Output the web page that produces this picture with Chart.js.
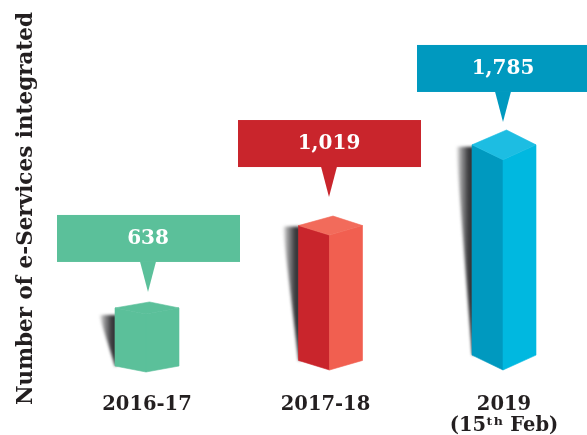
<!DOCTYPE html>
<html>
<head>
<meta charset="utf-8">
<style>html,body{margin:0;padding:0;background:#fff}canvas{display:block}</style>
<script src="https://cdn.jsdelivr.net/npm/chart.js@4"></script>
</head>
<body>
<canvas id="c" width="587" height="435"></canvas>
<script>
const categories = ['2016-17', '2017-18', ['2019', '(15ᵗʰ Feb)']];
const eServices = [638, 1019, 1785];
const valueLabels = ['638', '1,019', '1,785'];
const axisTitle = 'Number of e-Services integrated';
// The source graphic's bars are not to scale: these knots describe its non-linear value axis.
const axisKnots = [0, 638, 1019, 1785];
const axisKnotsDrawnAs = [0, 506, 1145, 1785];

const FONT = '"DejaVu Serif", serif';
const INK = '#231f20';

class DrawnHeightScale extends Chart.LinearScale {
  static id = 'drawnHeight';
  getPixelForValue(v) {
    let w = v;
    for (let k = 1; k < axisKnots.length; k++) {
      if (v <= axisKnots[k]) {
        const t = (v - axisKnots[k - 1]) / (axisKnots[k] - axisKnots[k - 1]);
        w = axisKnotsDrawnAs[k - 1] + t * (axisKnotsDrawnAs[k] - axisKnotsDrawnAs[k - 1]);
        break;
      }
    }
    return super.getPixelForValue(w);
  }
}

function poly(ctx, pts, fill, seal) {
  ctx.beginPath();
  pts.forEach((p, i) => i ? ctx.lineTo(p[0], p[1]) : ctx.moveTo(p[0], p[1]));
  ctx.closePath();
  ctx.fillStyle = fill;
  ctx.fill();
  if (seal) {
    ctx.strokeStyle = fill;
    ctx.lineWidth = 0.6;
    ctx.stroke();
  }
}

class PrismBar extends Chart.BarElement {
  static id = 'prismBar';
  draw(ctx) {
    const i = this.$context.index;
    const st = this.$context.dataset.prism;
    const { x, y, base: axisBase, width } = this.getProps(['x', 'y', 'base', 'width'], true);
    const base = axisBase + st.baseDrop[i];
    const cx = x + st.shift[i];
    const l = cx - width / 2, r = cx + width / 2;
    const d = Math.max(6, (axisBase - y) * 0.062);
    const mid = cx - 1, apex = cx + 2.5;
    const top = y + d, bot = base - d;
    ctx.save();
    // cast shadow
    ctx.save();
    ctx.filter = 'blur(1.5px)';
    const g = ctx.createLinearGradient(l - 16, 0, l + 1, 0);
    g.addColorStop(0, 'rgba(70,70,72,0)');
    g.addColorStop(0.3, 'rgba(70,70,72,0.55)');
    g.addColorStop(0.7, 'rgba(55,55,58,0.95)');
    g.addColorStop(1, 'rgba(45,45,48,1)');
    poly(ctx, [[l - 16, top + st.shadowDrop[i]], [l + 2, top + st.shadowDrop[i]], [l + 2, bot], [l, bot]], g);
    ctx.restore();
    // faces
    poly(ctx, [[l, top], [mid, top + d], [mid, base], [l, bot]], st.left[i], true);
    poly(ctx, [[mid, top + d], [r, top], [r, bot], [mid, base]], st.right[i], true);
    poly(ctx, [[l, top], [apex, y], [r, top], [mid, top + d]], st.cap[i], true);
    ctx.restore();
  }
}

class PrismController extends Chart.BarController {
  static id = 'prism';
  static defaults = { dataElementType: 'prismBar' };
}

const calloutPlugin = {
  id: 'callouts',
  afterDatasetsDraw(chart, args, opts) {
    const ctx = chart.ctx;
    chart.getDatasetMeta(0).data.forEach((bar, i) => {
      const tipX = bar.x + opts.tipDx[i];
      const tipY = bar.y - opts.gap[i];
      const baseY = tipY - opts.pointer;
      const left = tipX + opts.boxDx[i];
      ctx.save();
      ctx.fillStyle = opts.fill[i];
      ctx.fillRect(left, baseY - opts.boxH, opts.boxW, opts.boxH);
      poly(ctx, [[tipX - 8, baseY - 0.5], [tipX + 8, baseY - 0.5], [tipX, tipY]], opts.fill[i]);
      ctx.fillStyle = '#fff';
      ctx.font = 'bold ' + opts.fontSize + 'px ' + FONT;
      ctx.textAlign = 'center';
      ctx.textBaseline = 'middle';
      ctx.fillText(valueLabels[i], tipX, baseY - opts.boxH / 2);
      ctx.restore();
    });
  }
};

Chart.register(DrawnHeightScale, PrismBar, PrismController);

new Chart(document.getElementById('c'), {
  type: 'prism',
  data: {
    labels: categories,
    datasets: [{
      label: axisTitle,
      data: eServices,
      barThickness: 64,
      clip: false,
      backgroundColor: ['#5bc09a', '#c9252c', '#0099bf'],
      prism: {
        left: ['#5bc09a', '#c9252c', '#0099bf'],
        right: ['#5bc09a', '#f15f50', '#00b8e0'],
        cap: ['#5bc09a', '#f26b5b', '#1dbde2'],
        shift: [0, 5, 0],
        shadowDrop: [7, 1, 2],
        baseDrop: [2, 0, 0]
      }
    }]
  },
  plugins: [calloutPlugin],
  options: {
    responsive: false,
    animation: false,
    events: [],
    layout: { padding: { top: 47, right: 83, left: 0, bottom: 0 } },
    plugins: {
      legend: { display: false },
      tooltip: { enabled: false },
      callouts: {
        tipDx: [1, 3.5, -1],
        gap: [10, 19, 8],
        pointer: 30,
        boxDx: [-91, -91, -86],
        boxW: 183,
        boxH: 47,
        fontSize: 20,
        fill: ['#5bc09a', '#c9252c', '#0099bf']
      }
    },
    scales: {
      x: {
        type: 'category',
        offset: false,
        grid: { display: false },
        border: { display: false },
        afterFit(s) { s.height = 65; },
        ticks: {
          color: INK,
          autoSkip: false,
          maxRotation: 0,
          padding: 16,
          font: { family: FONT, size: 19.5, weight: 'bold', lineHeight: 1.08 }
        }
      },
      y: {
        type: 'drawnHeight',
        min: 0,
        max: 2402,
        grid: { display: false },
        border: { display: false },
        afterFit(s) { s.width = 147; },
        ticks: { display: false },
        title: {
          display: true,
          text: axisTitle,
          color: INK,
          padding: { top: 14, bottom: 0 },
          font: { family: FONT, size: 21.5, weight: 'bold', lineHeight: 1.2 }
        }
      }
    }
  }
});
</script>
</body>
</html>
